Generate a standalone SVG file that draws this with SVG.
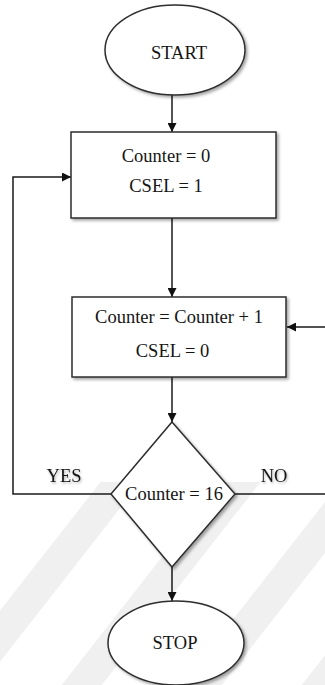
<svg xmlns="http://www.w3.org/2000/svg" width="325" height="685" viewBox="0 0 325 685">
  <style>
    .shape { fill: #ffffff; stroke: #2e2e2e; stroke-width: 1.5; filter: url(#shadow); }
    .wire { fill: none; stroke: #1a1a1a; stroke-width: 1.5; }
    .lbl { font-family: "Liberation Serif", "Times New Roman", serif; font-size: 18.5px; fill: #151515; text-anchor: middle; }
    .band { fill: #f0f0f0; }
  </style>
  <defs>
    <filter id="shadow" x="-20%" y="-20%" width="140%" height="140%">
      <feDropShadow dx="2" dy="2" stdDeviation="1.5" flood-color="#000" flood-opacity="0.35"/>
    </filter>
    <filter id="tshadow" x="-20%" y="-40%" width="140%" height="180%">
      <feDropShadow dx="1" dy="1.5" stdDeviation="1" flood-color="#000" flood-opacity="0.3"/>
    </filter>
    <marker id="arrow" viewBox="0 0 10 10" refX="10" refY="5" markerWidth="9" markerHeight="9" markerUnits="userSpaceOnUse" orient="auto">
      <path d="M0,0 L10,5 L0,10 Z" fill="#111111"/>
    </marker>
    <clipPath id="lower">
      <rect x="0" y="482" width="325" height="203"/>
    </clipPath>
  </defs>

  <rect width="325" height="685" fill="#ffffff"/>

  <!-- faint diagonal background bands -->
  <g clip-path="url(#lower)">
    <polygon class="band" points="-70,700 -30,700 150,470 110,470"/>
    <polygon class="band" points="50,700 90,700 270,470 230,470"/>
    <polygon class="band" points="170,700 210,700 390,470 350,470"/>
    <polygon class="band" points="290,700 330,700 510,470 470,470"/>
  </g>

  <!-- connectors -->
  <g id="connectors">
    <line class="wire" x1="172" y1="95" x2="172" y2="132" marker-end="url(#arrow)"/>
    <line class="wire" x1="172" y1="218" x2="172" y2="297" marker-end="url(#arrow)"/>
    <line class="wire" x1="172" y1="377" x2="172" y2="422" marker-end="url(#arrow)"/>
    <line class="wire" x1="172" y1="567" x2="172" y2="601" marker-end="url(#arrow)"/>
    <polyline class="wire" points="111,494 13,494 13,177 71,177" marker-end="url(#arrow)"/>
    <polyline class="wire" points="235,494 327,494 327,327 287,327" marker-end="url(#arrow)"/>
    <text class="lbl" x="64" y="482" filter="url(#tshadow)">YES</text>
    <text class="lbl" x="274" y="482" filter="url(#tshadow)">NO</text>
  </g>

  <g id="start">
    <ellipse class="shape" cx="175" cy="50" rx="70" ry="45"/>
    <text class="lbl" x="179" y="59">START</text>
  </g>

  <g id="init">
    <rect class="shape" x="71" y="132" width="205" height="86"/>
    <text class="lbl" x="166" y="162">Counter = 0</text>
    <text class="lbl" x="166" y="192">CSEL = 1</text>
  </g>

  <g id="increment">
    <rect class="shape" x="72" y="297" width="214" height="80"/>
    <text class="lbl" x="179" y="323">Counter = Counter + 1</text>
    <text class="lbl" x="172.5" y="357">CSEL = 0</text>
  </g>

  <g id="check">
    <polygon class="shape" points="172,422 235,494 172,567 111,494"/>
    <text class="lbl" x="174" y="500">Counter = 16</text>
  </g>

  <g id="stop">
    <ellipse class="shape" cx="176" cy="643" rx="68" ry="42"/>
    <text class="lbl" x="175" y="649">STOP</text>
  </g>
</svg>
